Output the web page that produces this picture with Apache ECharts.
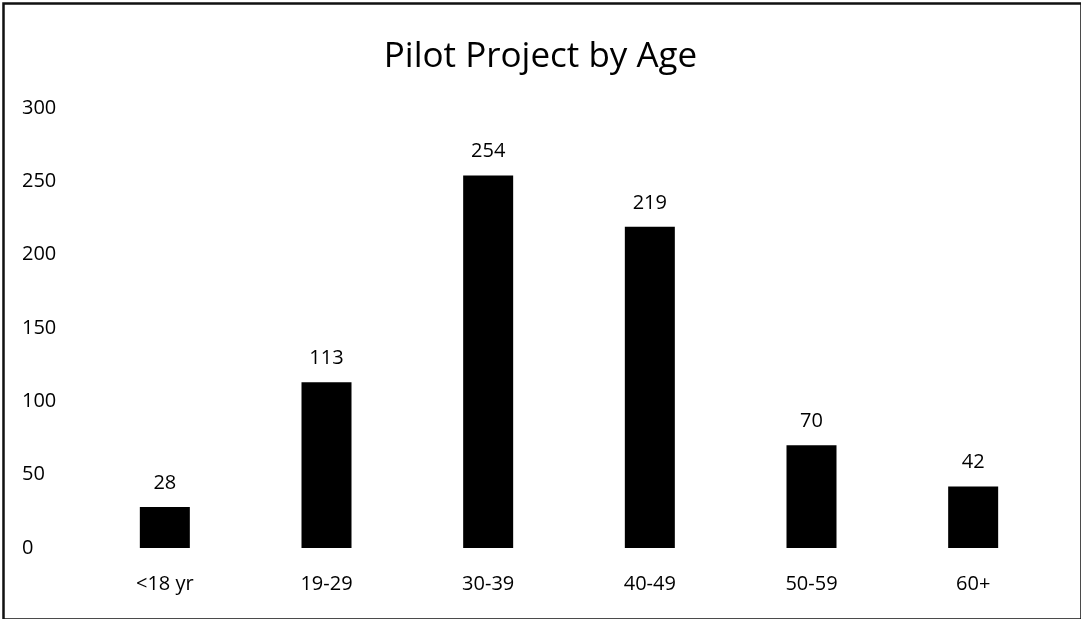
<!DOCTYPE html>
<html>
<head>
<meta charset="utf-8">
<script src="https://cdn.jsdelivr.net/npm/echarts@6/dist/echarts.min.js"></script>
<style>
  html, body { margin: 0; padding: 0; background: #fff; }
  #chart { width: 1081px; height: 619px; }
</style>
</head>
<body>
<div id="chart"></div>
<script>
const categories = ['<18 yr', '19-29', '30-39', '40-49', '50-59', '60+']
const counts = [28, 113, 254, 219, 70, 42]
const yTicks = { min: 0, max: 300, interval: 50 }

const fontFamily = '"Open Sans", "Noto Sans", sans-serif'

const myChart = echarts.init(document.getElementById('chart'))
myChart.setOption({
  backgroundColor: '#fff',
  animation: false,
  title: {
    text: 'Pilot Project by Age',
    left: 'center',
    top: 35,
    textStyle: { fontFamily, fontSize: 35, fontWeight: 'normal', color: '#000' },
  },
  // frame round the whole picture
  graphic: [
    {
      type: 'rect',
      left: 1,
      top: 1,
      shape: { width: 1078, height: 616 },
      style: { fill: 'none', stroke: '#111', lineWidth: 2.5 },
      silent: true,
    },
  ],
  grid: { left: 84, right: 27, top: 108, bottom: 71 },
  xAxis: {
    type: 'category',
    data: categories,
    axisLine: { show: false },
    axisTick: { show: false },
    axisLabel: { fontFamily, fontSize: 20, color: '#000', margin: 26 },
  },
  yAxis: {
    type: 'value',
    min: yTicks.min,
    max: yTicks.max,
    interval: yTicks.interval,
    splitLine: { show: false },
    axisLine: { show: false },
    axisTick: { show: false },
    axisLabel: { fontFamily, fontSize: 20, color: '#000', align: 'left', margin: 62 },
  },
  series: [
    {
      type: 'bar',
      data: counts,
      barWidth: 50,
      itemStyle: { color: '#000' },
      label: {
        show: true,
        position: 'top',
        distance: 14,
        fontFamily,
        fontSize: 20,
        color: '#000',
      },
    },
  ],
})
</script>
</body>
</html>
